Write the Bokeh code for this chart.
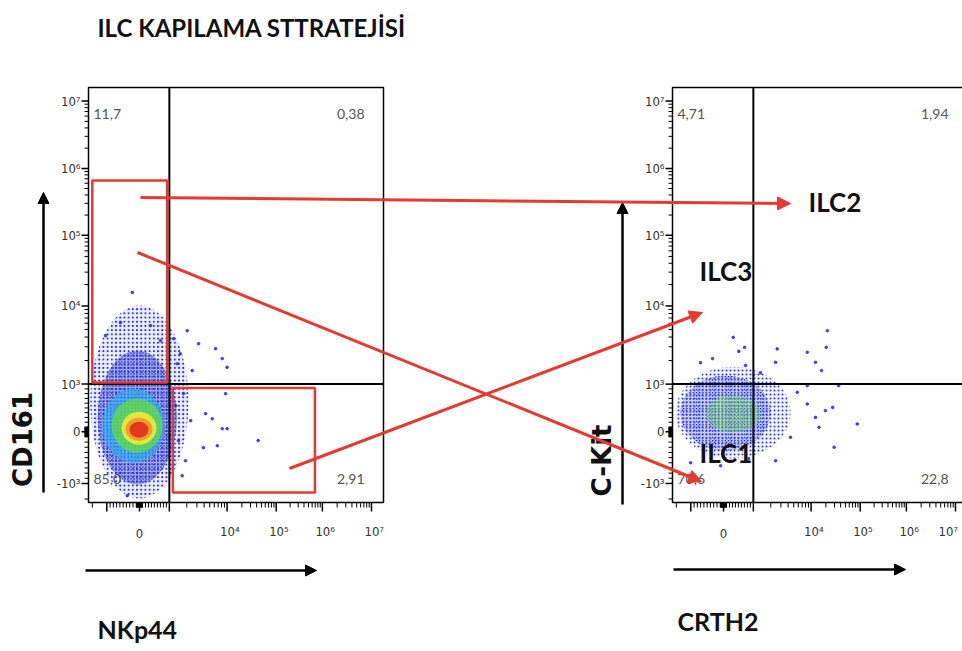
import numpy as np
from bokeh.plotting import figure
from bokeh.models import Range1d, Arrow, NormalHead
from bokeh.core.properties import value
from bokeh.embed import file_html
from bokeh.resources import INLINE

# ---------------- data ----------------
title_text = "ILC KAPILAMA STTRATEJİSİ"
x_axis_titles = ["NKp44", "CRTH2"]
y_axis_titles = ["CD161", "C-Kit"]
population_labels = ["ILC2", "ILC3", "ILC1"]

quadrant_gate = 1000.0                                   # quadrant split on both axes
left_quadrant_pct = ["11,7", "0,38", "85,0", "2,91"]    # UL, UR, LL, LR
right_quadrant_pct = ["4,71", "1,94", "70,6", "22,8"]   # UL, UR, LL, LR

y_tick_values = [-1e3, 0, 1e3, 1e4, 1e5, 1e6, 1e7]
y_tick_labels = ["-10³", "0", "10³", "10⁴", "10⁵", "10⁶", "10⁷"]
x_tick_values = [0, 1e4, 1e5, 1e6, 1e7]
x_tick_labels = ["0", "10⁴", "10⁵", "10⁶", "10⁷"]

# red gates on the NKp44 / CD161 plot: [x0, x1, y0, y1] (fluorescence units)
gate_cd161_pos = [-2000, 930, 1050, 6.6e5]
gate_nkp44_pos = [1150, 6.9e5, -1490, 920]

# density contours of the event clouds (bounds in fluorescence units), outer -> inner
left_cloud_x_lo = [-2200, -1550, -1230, -856, -550, -428, -306]
left_cloud_x_hi = [2150, 1350, 840, 771, 571, 437, 302]
left_cloud_y_lo = [-1950, -1050, -600, -405, -250, -172, -115]
left_cloud_y_hi = [10100, 2680, 906, 694, 421, 296, 211]

right_cloud_x_lo = [-2080, -1640, -550]
right_cloud_x_hi = [4400, 1990, 1330]
right_cloud_y_lo = [-520, -366, -18]
right_cloud_y_hi = [1670, 1290, 759]

# isolated events outside the dense clouds
left_out_x = [-220, 2040, 3210, 6310, 8260, 10000, 2490, 1760, 9400, 4240, 5540, 8260, 10000,
              42900, 3890, 6760, 1670, -375, 1180, 1550, 1380, 1290, 2340, 1440, 1910,
              -1060, -580, 369, 705]
left_out_y = [15500, 4820, 3290, 2840, 2120, 1640, 1490, 800, 800, 380, 274, 64, 64,
              -170, -308, -270, -850, -1730, 3800, 2450, 1820, 549, 233, -172, -560,
              4170, 6110, 5600, 3600]
right_out_x = [326, 705, 513, 2590, 8580, 21400, 20400, 16300, 12300, 2430, 5760, 8580, 12300,
               19600, 27500, 29500, 87000, 14500, 4400, 2430, 8580, 36300,
               -703, -335, 739, 1330, -1010, -90, 840]
right_out_y = [3960, 2950, 2620, 2820, 2550, 4820, 2950, 1490, 1900, 1900, 827, 583, 301,
               443, 511, -300, 163, 93, -108, -560, 969, 969,
               1880, 2120, 1730, 1400, -600, -657, -520]

# ---------------- scale (biexponential-like display) ----------------
AX_H = [-2, -1, 0, 1, 2, 3, 4, 5]
AX_X = [0.5, 1.5, 2.18, 2.8, 4.0, 5.02, 5.98, 7.0]
AX_Y = [0.62, 1.38, 2.14, 2.84, 3.99, 5.03, 6.01, 7.0]
X_SPAN = (1.12, 7.25)
Y_SPAN = (1.1, 7.2)


def to_h(v):
    v = np.asarray(v, dtype=float)
    a = np.abs(v)
    return np.where(a <= 1000, v / 1000.0, np.sign(v) * (1 + np.log10(np.maximum(a, 1000) / 1000.0)))


def tx(v):
    return np.interp(to_h(v), AX_H, AX_X)


def ty(v):
    return np.interp(to_h(v), AX_H, AX_Y)


# ---------------- layout ----------------
W, H = 962, 651
BOX_TOP, BOX_BOTTOM = 87, 502
BOX_W = 295
LEFT_BOX_X0, RIGHT_BOX_X0 = 88, 672

TICKF = "'DejaVu Sans Condensed', 'DejaVu Sans', sans-serif"
NUMF = "Lato, 'DejaVu Sans Condensed', sans-serif"
BOLDF = "Lato, 'DejaVu Sans Condensed', sans-serif"
WIDE = "'DejaVu Sans', Verdana, sans-serif"
RED = "#e53a2f"

p = figure(width=W, height=H, output_backend="svg", toolbar_location=None,
           x_range=Range1d(0, W), y_range=Range1d(H, 0),
           x_axis_location=None, y_axis_location=None, min_border=0,
           outline_line_color=None, background_fill_color="white")
p.xgrid.visible = False
p.ygrid.visible = False

sx = (X_SPAN[1] - X_SPAN[0]) / BOX_W
sy = (Y_SPAN[1] - Y_SPAN[0]) / (BOX_BOTTOM - BOX_TOP)
ystart = Y_SPAN[0] - (H - BOX_BOTTOM) * sy
p.extra_y_ranges = {"P": Range1d(ystart, ystart + H * sy)}
xr = {}
for name, bx in (("L", LEFT_BOX_X0), ("R", RIGHT_BOX_X0)):
    st = X_SPAN[0] - bx * sx
    xr[name] = Range1d(st, st + W * sx)
p.extra_x_ranges = xr

# tick positions
minor_vals = []
for j in range(3, 7):
    for k in range(2, 10):
        minor_vals.append(k * 10 ** j)
for k in range(1, 10):
    minor_vals += [k * 100, -k * 100, k * 10, -k * 10]
minor_vals += [-2000]
major_vals = [-1e3, 0, 1e3, 1e4, 1e5, 1e6, 1e7]

LEFT_STYLES = [
    dict(fill_color="#8892f0", fill_alpha=0.15, hatch_pattern="dot", hatch_color="#2430d8", hatch_scale=4.2, hatch_weight=1.6, line_color=None),
    dict(fill_color="#3340d8", fill_alpha=0.40, hatch_pattern="dot", hatch_color="#0c12b0", hatch_scale=3.0, hatch_weight=1.7, line_color=None),
    dict(fill_color="#3cb8f2", fill_alpha=0.80, hatch_pattern="dot", hatch_color="#2a60e0", hatch_scale=3.5, hatch_weight=1.2, line_color=None),
    dict(fill_color="#62d655", fill_alpha=0.95, hatch_pattern="dot", hatch_color="#3fb8a0", hatch_scale=3.5, hatch_weight=1.0, line_color=None),
    dict(fill_color="#e8e83a", fill_alpha=0.95, line_color=None),
    dict(fill_color="#f39a2a", fill_alpha=0.95, line_color=None),
    dict(fill_color="#e2341f", fill_alpha=0.95, line_color=None),
]
RIGHT_STYLES = [
    dict(fill_color="#9aa2f2", fill_alpha=0.12, hatch_pattern="dot", hatch_color="#2a38e0", hatch_scale=4.0, hatch_weight=1.5, line_color=None),
    dict(fill_color="#6a76ee", fill_alpha=0.28, hatch_pattern="dot", hatch_color="#1018c0", hatch_scale=3.2, hatch_weight=1.6, line_color=None),
    dict(fill_color="#8fdc7a", fill_alpha=0.35, hatch_pattern="dot", hatch_color="#3cb83c", hatch_scale=3.6, hatch_weight=1.6, line_color=None),
]


def draw_panel(name, pct, cx_lo, cx_hi, cy_lo, cy_hi, ox, oy, styles, last_label_shift):
    kw = dict(x_range_name=name, y_range_name="P")
    x0, x1 = X_SPAN
    y0, y1 = Y_SPAN
    # clouds
    lx0, lx1 = tx(cx_lo), tx(cx_hi)
    ly0, ly1 = ty(cy_lo), ty(cy_hi)
    for i, st in enumerate(styles):
        p.ellipse(x=[(lx0[i] + lx1[i]) / 2], y=[(ly0[i] + ly1[i]) / 2],
                  width=[lx1[i] - lx0[i]], height=[ly1[i] - ly0[i]], **st, **kw)
    p.scatter(x=tx(ox), y=ty(oy), size=2.6, marker="circle", color="#2030e0", alpha=0.85, **kw)
    # box
    p.quad(left=[x0], right=[x1], bottom=[y0], top=[y1], fill_color=None,
           line_color="black", line_width=1.5, **kw)
    # quadrant gates
    g = quadrant_gate
    p.segment(x0=[tx(g), x0], x1=[tx(g), x1], y0=[y0, ty(g)], y1=[y1, ty(g)],
              line_color="black", line_width=2, **kw)
    # ticks
    yv_min = [v for v in minor_vals if y0 <= ty(v) <= y1]
    xv_min = [v for v in minor_vals if x0 <= tx(v) <= x1]
    p.segment(x0=[x0] * len(yv_min), x1=[x0 - 4 * sx] * len(yv_min), y0=ty(yv_min), y1=ty(yv_min),
              line_color="black", line_width=1, **kw)
    p.segment(x0=[x0] * len(major_vals), x1=[x0 - 7 * sx] * len(major_vals), y0=ty(major_vals), y1=ty(major_vals),
              line_color="black", line_width=1.5, **kw)
    p.segment(x0=tx(xv_min), x1=tx(xv_min), y0=[y0] * len(xv_min), y1=[y0 - 5 * sy] * len(xv_min),
              line_color="black", line_width=1, **kw)
    p.segment(x0=tx(major_vals), x1=tx(major_vals), y0=[y0] * len(major_vals), y1=[y0 - 9 * sy] * len(major_vals),
              line_color="black", line_width=1.5, **kw)
    # tick labels
    lk = dict(text_font=value(TICKF), text_font_size="13px", text_color="#333333",
              text_baseline="middle", **kw)
    p.text(x=[x0] * len(y_tick_values), y=ty(y_tick_values), text=y_tick_labels, x_offset=-8,
           text_align="right", **lk)
    p.text(x=tx(x_tick_values[:1]), y=[y0], text=x_tick_labels[:1], y_offset=31,
           text_align="center", **lk)
    offs = [-7, -7, -7, -7 - last_label_shift]
    p.text(x=tx(x_tick_values[1:]), y=[y0] * 4, text=x_tick_labels[1:], y_offset=29, x_offset=offs,
           text_align="left", **lk)
    # quadrant percentages
    tk = dict(text_font=value(NUMF), text_font_size="14px", text_color="#555555",
              text_baseline="middle", **kw)
    p.text(x=[x0], y=[y1], text=[pct[0]], x_offset=5, y_offset=26, text_align="left", **tk)
    p.text(x=[x1], y=[y1], text=[pct[1]], x_offset=-19, y_offset=26, text_align="right", **tk)
    p.text(x=[x0], y=[y0], text=[pct[2]], x_offset=5, y_offset=-24, text_align="left", **tk)
    p.text(x=[x1], y=[y0], text=[pct[3]], x_offset=-19, y_offset=-24, text_align="right", **tk)


draw_panel("L", left_quadrant_pct, left_cloud_x_lo, left_cloud_x_hi, left_cloud_y_lo, left_cloud_y_hi,
           left_out_x, left_out_y, LEFT_STYLES, 0)
draw_panel("R", right_quadrant_pct, right_cloud_x_lo, right_cloud_x_hi, right_cloud_y_lo, right_cloud_y_hi,
           right_out_x, right_out_y, RIGHT_STYLES, 10)

# red gates on the left plot
for gx0, gx1, gy0, gy1 in (gate_cd161_pos, gate_nkp44_pos):
    p.quad(left=tx([gx0]), right=tx([gx1]), bottom=ty([gy0]), top=ty([gy1]), fill_color=None,
           line_color=RED, line_width=2.5, x_range_name="L", y_range_name="P")

# title, axis titles, population labels (page coordinates)
p.text(x=[97], y=[27], text=[title_text], text_align="left", text_baseline="middle",
       text_font=value(BOLDF), text_font_style="bold", text_font_size="24px", text_color="#111111")
p.text(x=[97, 677], y=[628, 620], text=x_axis_titles, text_align="left", text_baseline="middle",
       text_font=value(BOLDF), text_font_style="bold", text_font_size="25px", text_color="#111111")
p.text(x=[22, 601], y=[439, 460], text=y_axis_titles, angle=np.pi / 2, text_align="center",
       text_baseline="middle", text_font=value(WIDE), text_font_style="bold", text_font_size="26px",
       text_color="#111111")
p.text(x=[808, 699, 699], y=[201, 270, 452], text=population_labels, text_align="left",
       text_baseline="middle", text_font=value(BOLDF), text_font_style="bold", text_font_size="26px",
       text_color="#111111")

# black axis arrows
for xs, ys, xe, ye in ((43, 492, 43, 192), (622, 504, 622, 202), (85, 570, 316, 570), (673, 569, 905, 569)):
    p.add_layout(Arrow(end=NormalHead(size=11, fill_color="black", line_color="black"),
                       x_start=xs, y_start=ys, x_end=xe, y_end=ye, line_color="black", line_width=2.5))

# red arrows linking gates to populations
for xs, ys, xe, ye in ((140, 197, 790, 203), (137, 252, 701, 481), (289, 468, 702, 312)):
    p.add_layout(Arrow(end=NormalHead(size=13, fill_color=RED, line_color=RED),
                       x_start=xs, y_start=ys, x_end=xe, y_end=ye, line_color=RED, line_width=3))

open("out.html", "w").write(file_html(p, INLINE))
